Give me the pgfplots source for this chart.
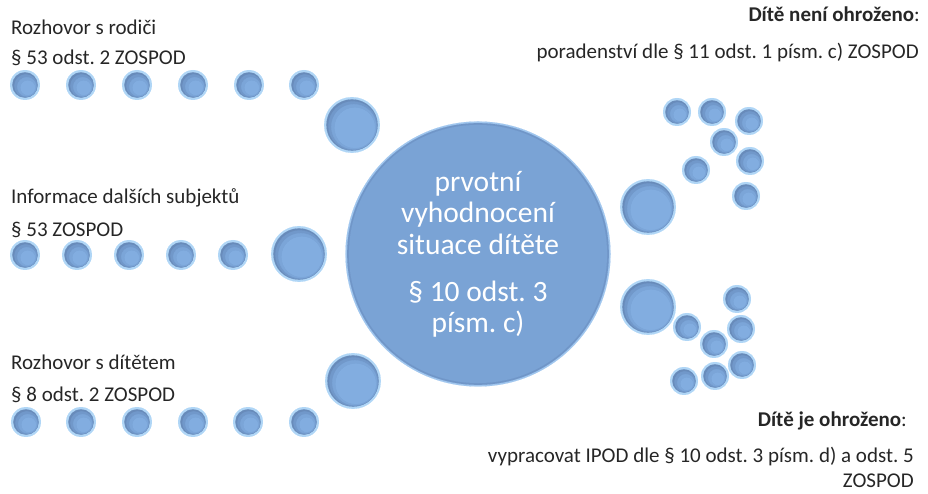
\documentclass[border=0pt]{standalone}
\usepackage{pgfplots}
\pgfplotsset{compat=1.18}
\usepackage{pgfplotstable}
\usepackage{fontspec}
\setmainfont{Carlito}
\frenchspacing
\definecolor{txt}{RGB}{38,38,38}
\definecolor{rim}{RGB}{176,214,246}
\definecolor{bubA}{RGB}{104,139,186}
\definecolor{bubB}{RGB}{113,152,202}
\definecolor{bubC}{RGB}{123,165,216}
\definecolor{bubD}{RGB}{133,177,228}
\definecolor{cfill}{RGB}{122,163,213}
\definecolor{cedge}{RGB}{112,150,200}
\definecolor{crim}{RGB}{160,198,238}

\pgfplotstableread{
x y
25 85
81 85
137 85
193 85
249 85
304 85
25 255
77 255
129 255
181 255
233 255
26 422
81 422
137 422
193 422
248 422
304 422
}\leftsmall

\pgfplotstableread{
x y
352 125
299 254
353 381
648 207
648 307
}\largebub

\pgfplotstableread{
x y
677 112
712 112
749 121
724 142
750 161
696 170
746 196
687 327
737 299
741 329
714 344
742 365
715 376
684 381
}\rightsmall

\pgfplotstableread{
x y
478 254
}\ctrbub

\pgfplotsset{bub/.style={only marks, mark=*, color=#1, mark options={fill=#1, draw=#1, line width=0.1pt}}}

% bubble drawing: #1 table, #2 radius
\newcommand{\bubbles}[2]{%
\addplot[bub=rim, mark size=#2] table {#1};
\addplot[bub=bubA, mark size=#2-2.3] table {#1};
\addplot[bub=bubB, mark size=#2-3.6, mark options={xshift=0.8bp, yshift=-0.8bp}] table {#1};
\addplot[bub=bubC, mark size=#2-5.5, mark options={xshift=1.8bp, yshift=-1.8bp}] table {#1};
\addplot[bub=bubD, mark size=#2-8, mark options={xshift=2.8bp, yshift=-2.8bp, opacity=0.7}] table {#1};
}

\begin{document}
\begin{tikzpicture}
\begin{axis}[x=1bp, y=1bp, xmin=0, xmax=928, ymin=0, ymax=494, y dir=reverse,
  hide axis, clip=false, set layers]
\path (rel axis cs:0,0) rectangle (rel axis cs:1,1);
% central bubble
\addplot[bub=crim, mark size=133] table {\ctrbub};
\addplot[bub=cedge, mark size=131.3] table {\ctrbub};
\addplot[bub=cfill, mark size=129.5] table {\ctrbub};
% other bubbles
\bubbles{\largebub}{28}
\bubbles{\leftsmall}{15}
\bubbles{\rightsmall}{14}

\begin{pgfonlayer}{axis foreground}
\begin{scope}[every node/.style={inner sep=0pt, text=txt, font=\fontsize{21bp}{25bp}\selectfont}]
\node[anchor=base west] at (axis cs:11,35) {Rozhovor s rodiči};
\node[anchor=base west] at (axis cs:11,65) {§ 53 odst. 2 ZOSPOD};
\node[anchor=base west] at (axis cs:11,204) {Informace dalších subjektů};
\node[anchor=base west] at (axis cs:11,237) {§ 53 ZOSPOD};
\node[anchor=base west] at (axis cs:11,370) {Rozhovor s dítětem};
\node[anchor=base west] at (axis cs:11,402) {§ 8 odst. 2 ZOSPOD};
\node[anchor=base east] at (axis cs:920,22) {\textbf{Dítě není ohroženo}:};
\node[anchor=base east] at (axis cs:919,59) {poradenství dle § 11 odst. 1 písm. c) ZOSPOD};
\node[anchor=base east] at (axis cs:907,427) {\textbf{Dítě je ohroženo}:};
\node[anchor=base east] at (axis cs:914,463) {vypracovat IPOD dle § 10 odst. 3 písm. d) a odst. 5};
\node[anchor=base east] at (axis cs:914,488) {ZOSPOD};
\end{scope}
\begin{scope}[every node/.style={inner sep=0pt, text=white, font=\fontsize{29.5bp}{34bp}\selectfont}]
\node[anchor=base] at (axis cs:478,192) {prvotní};
\node[anchor=base] at (axis cs:478,223) {vyhodnocení};
\node[anchor=base] at (axis cs:478,255) {situace dítěte};
\node[anchor=base] at (axis cs:478,302) {§ 10 odst. 3};
\node[anchor=base] at (axis cs:478,333) {písm. c)};
\end{scope}
\end{pgfonlayer}
\end{axis}
\end{tikzpicture}
\end{document}
